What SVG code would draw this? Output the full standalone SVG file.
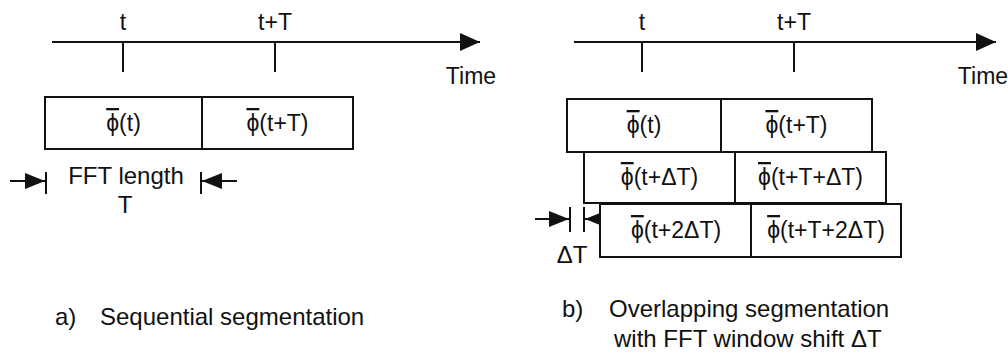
<svg xmlns="http://www.w3.org/2000/svg" width="1008" height="354" viewBox="0 0 1008 354">
<style>
text{font-family:"Liberation Sans",Arial,sans-serif;fill:#111}
.lbl{font-size:23px;text-anchor:middle}
.phi{text-decoration:overline}
.ax{font-size:23px;text-anchor:middle}
.cap{font-size:24px}
.box{fill:#fff;stroke:#111;stroke-width:2}
.ln{stroke:#111;stroke-width:2;fill:none}
</style>
<defs>
<marker id="ah" viewBox="0 0 20 18" refX="20" refY="9" markerWidth="20" markerHeight="18" markerUnits="userSpaceOnUse" orient="auto">
<path d="M0,0 L20,9 L0,18 Z" fill="#111"/>
</marker>
<marker id="ahs" viewBox="0 0 20 16" refX="20" refY="8" markerWidth="20" markerHeight="16" markerUnits="userSpaceOnUse" orient="auto">
<path d="M0,0 L20,8 L0,16 Z" fill="#111"/>
</marker>
</defs>
<rect width="1008" height="354" fill="#fff"/>

<g id="connectors">
<line class="ln" x1="52" y1="42" x2="480" y2="42" marker-end="url(#ah)"/>
<line class="ln" x1="123" y1="42" x2="123" y2="72"/>
<line class="ln" x1="275" y1="42" x2="275" y2="72"/>
<line class="ln" x1="574" y1="42" x2="996" y2="42" marker-end="url(#ah)"/>
<line class="ln" x1="642" y1="42" x2="642" y2="72"/>
<line class="ln" x1="794" y1="42" x2="794" y2="72"/>
<line class="ln" x1="10" y1="181" x2="45" y2="181" marker-end="url(#ahs)"/>
<line class="ln" x1="46" y1="172" x2="46" y2="194"/>
<line class="ln" x1="237" y1="181" x2="202" y2="181" marker-end="url(#ahs)"/>
<line class="ln" x1="201" y1="172" x2="201" y2="194"/>
<line class="ln" x1="535" y1="219" x2="569" y2="219" marker-end="url(#ahs)"/>
<line class="ln" x1="570" y1="207" x2="570" y2="232"/>
<line class="ln" x1="618" y1="219" x2="585" y2="219" marker-end="url(#ahs)"/>
<line class="ln" x1="584" y1="207" x2="584" y2="232"/>
</g>

<g id="axis-labels">
<text class="ax" x="123" y="30">t</text>
<text class="ax" x="275" y="30">t+T</text>
<text class="ax" x="471" y="84">Time</text>
<text class="ax" x="642" y="30">t</text>
<text class="ax" x="794" y="30">t+T</text>
<text class="ax" x="983" y="84">Time</text>
</g>

<g id="seq-box-1"><rect class="box" x="45" y="97" width="157" height="52"/><text class="lbl" x="123.5" y="131"><tspan class="phi">ϕ</tspan>(t)</text></g>
<g id="seq-box-2"><rect class="box" x="202" y="97" width="151" height="52"/><text class="lbl" x="277.5" y="131"><tspan class="phi">ϕ</tspan>(t+T)</text></g>

<g id="fft-length">
<text class="cap" x="126" y="184" text-anchor="middle">FFT length</text>
<text class="cap" x="125" y="213" text-anchor="middle">T</text>
</g>

<g id="ov-box-1"><rect class="box" x="567" y="99" width="154" height="53"/><text class="lbl" x="644" y="133"><tspan class="phi">ϕ</tspan>(t)</text></g>
<g id="ov-box-2"><rect class="box" x="721" y="99" width="151" height="53"/><text class="lbl" x="796.5" y="133"><tspan class="phi">ϕ</tspan>(t+T)</text></g>
<g id="ov-box-3"><rect class="box" x="584" y="152" width="151" height="51"/><text class="lbl" x="659.5" y="185"><tspan class="phi">ϕ</tspan>(t+ΔT)</text></g>
<g id="ov-box-4"><rect class="box" x="735" y="152" width="151" height="51"/><text class="lbl" x="810.5" y="185"><tspan class="phi">ϕ</tspan>(t+T+ΔT)</text></g>
<g id="ov-box-5"><rect class="box" x="600" y="204" width="151" height="53"/><text class="lbl" x="676" y="238"><tspan class="phi">ϕ</tspan>(t+2ΔT)</text></g>
<g id="ov-box-6"><rect class="box" x="751" y="204" width="150" height="53"/><text class="lbl" x="826" y="238"><tspan class="phi">ϕ</tspan>(t+T+2ΔT)</text></g>

<g id="delta-label"><text class="cap" x="572" y="263" text-anchor="middle">ΔT</text></g>

<g id="captions">
<text class="cap" x="55" y="325">a)</text>
<text class="cap" x="100" y="325">Sequential segmentation</text>
<text class="cap" x="562" y="317">b)</text>
<text class="cap" x="609" y="317">Overlapping segmentation</text>
<text class="cap" x="614" y="347">with FFT window shift ΔT</text>
</g>
</svg>
